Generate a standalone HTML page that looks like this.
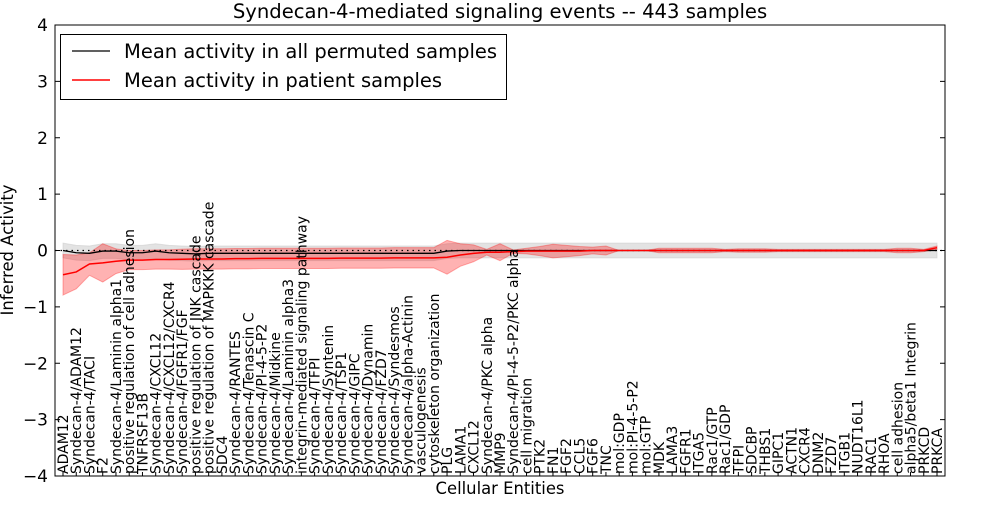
<!DOCTYPE html>
<html><head><meta charset="utf-8"><style>
body{margin:0;background:#fff;}
svg text{font-family:"DejaVu Sans","Liberation Sans",sans-serif;}
</style></head><body>
<svg id="chart" width="1000" height="500" xmlns="http://www.w3.org/2000/svg">
<rect width="1000" height="500" fill="#fff"/>
<g id="bands"></g>
<g id="lines"></g>
<g id="axes"></g>
</svg>
<script>
const categories=["ADAM12","Syndecan-4/ADAM12","Syndecan-4/TACI","F2","Syndecan-4/Laminin alpha1","positive regulation of cell adhesion","TNFRSF13B","Syndecan-4/CXCL12","Syndecan-4/CXCL12/CXCR4","Syndecan-4/FGFR1/FGF","positive regulation of JNK cascade","positive regulation of MAPKKK cascade","SDC4","Syndecan-4/RANTES","Syndecan-4/Tenascin C","Syndecan-4/PI-4-5-P2","Syndecan-4/Midkine","Syndecan-4/Laminin alpha3","integrin-mediated signaling pathway","Syndecan-4/TFPI","Syndecan-4/Syntenin","Syndecan-4/TSP1","Syndecan-4/GIPC","Syndecan-4/Dynamin","Syndecan-4/FZD7","Syndecan-4/Syndesmos","Syndecan-4/alpha-Actinin","vasculogenesis","cytoskeleton organization","PLG","LAMA1","CXCL12","Syndecan-4/PKC alpha","MMP9","Syndecan-4/PI-4-5-P2/PKC alpha","cell migration","PTK2","FN1","FGF2","CCL5","FGF6","TNC","mol:GDP","mol:PI-4-5-P2","mol:GTP","MDK","LAMA3","FGFR1","ITGA5","Rac1/GTP","Rac1/GDP","TFPI","SDCBP","THBS1","GIPC1","ACTN1","CXCR4","DNM2","FZD7","ITGB1","NUDT16L1","RAC1","RHOA","cell adhesion","alpha5/beta1 Integrin","PRKCD","PRKCA"];
const patientMean=[-0.43,-0.38,-0.24,-0.22,-0.19,-0.17,-0.17,-0.16,-0.16,-0.155,-0.15,-0.15,-0.15,-0.145,-0.145,-0.14,-0.14,-0.14,-0.14,-0.14,-0.14,-0.135,-0.135,-0.135,-0.135,-0.13,-0.13,-0.13,-0.13,-0.12,-0.08,-0.05,-0.03,-0.03,-0.02,-0.01,-0.01,-0.01,-0.01,-0.01,0,0,0,0,0,0,0,0,0,0,0,0,0,0,0,0,0,0,0,0,0,0,0,0,0,0,0.05];
const patientStd=[0.36,0.3,0.2,0.34,0.22,0.17,0.17,0.17,0.17,0.18,0.18,0.18,0.18,0.18,0.18,0.18,0.18,0.18,0.18,0.18,0.18,0.18,0.18,0.18,0.18,0.18,0.18,0.18,0.18,0.3,0.2,0.15,0.05,0.15,0.03,0.05,0.08,0.12,0.1,0.08,0.06,0.08,0,0,0,0.04,0.04,0.04,0.04,0.04,0.02,0.03,0.03,0.03,0.02,0.02,0.02,0.02,0.02,0.02,0.02,0.02,0.02,0.04,0.04,0.02,0.03];
const permMean=[0,-0.04,-0.05,-0.01,-0.01,-0.04,-0.04,-0.01,-0.04,-0.05,-0.06,-0.05,-0.05,-0.05,-0.05,-0.05,-0.05,-0.05,-0.05,-0.05,-0.05,-0.05,-0.05,-0.05,-0.05,-0.05,-0.05,-0.05,-0.05,-0.01,0,0,0,0,0,0,0,0,0,0,0,0,0,0,0,0,0,0,0,0,0,0,0,0,0,0,0,0,0,0,0,0,0,0,0,0,0];
const permStd=[0.13,0.13,0.13,0.13,0.13,0.13,0.13,0.13,0.13,0.13,0.13,0.13,0.13,0.13,0.13,0.13,0.13,0.13,0.13,0.13,0.13,0.13,0.13,0.13,0.13,0.13,0.13,0.13,0.13,0.13,0.13,0.13,0.13,0.13,0.13,0.13,0.13,0.13,0.13,0.13,0.13,0.13,0.13,0.13,0.13,0.13,0.13,0.13,0.13,0.13,0.13,0.13,0.13,0.13,0.13,0.13,0.13,0.13,0.13,0.13,0.13,0.13,0.13,0.13,0.13,0.13,0.13];
const yTicks=[4,3,2,1,0,-1,-2,-3,-4];
const yTickLabels=["4","3","2","1","0","\u22121","\u22122","\u22123","\u22124"];

const L=55,R=945,T=25,B=476,NS="http://www.w3.org/2000/svg";
const n=categories.length;
const xs=i=>L+8+i*(R-L-16)/(n-1);
const ys=v=>T+(4-v)*(B-T)/8;
function mk(tag,attrs,parent){const e=document.createElementNS(NS,tag);for(const k in attrs)e.setAttribute(k,attrs[k]);parent.appendChild(e);return e;}
const gb=document.getElementById('bands'),gl=document.getElementById('lines'),ga=document.getElementById('axes');
function band(mean,std,fill,op,name){
  let up=mean.map((m,i)=>xs(i)+','+ys(m+std[i]));
  let dn=mean.map((m,i)=>xs(i)+','+ys(m-std[i])).reverse();
  const p=mk('polygon',{points:up.concat(dn).join(' '),fill:fill,'fill-opacity':op,stroke:fill,'stroke-opacity':op},gb);
  
  
}
band(permMean,permStd,'#c8c8c8',0.5,'permuted-std-band');
band(patientMean,patientStd,'#ff0000',0.3,'patient-std-band');
const zl=mk('line',{x1:L,x2:R,y1:ys(0),y2:ys(0),stroke:'#000','stroke-dasharray':'1.5,4','stroke-width':1.2},gl);


const pl=mk('polyline',{points:permMean.map((m,i)=>xs(i)+','+ys(m)).join(' '),fill:'none',stroke:'#000','stroke-width':1.3},gl);


const rl=mk('polyline',{points:patientMean.map((m,i)=>xs(i)+','+ys(m)).join(' '),fill:'none',stroke:'#f00','stroke-width':1.5},gl);


const fr=mk('rect',{x:L,y:T,width:R-L,height:B-T,fill:'none',stroke:'#000','stroke-width':1},ga);


yTicks.forEach((v,i)=>{
  mk('line',{x1:L,x2:L+5,y1:ys(v),y2:ys(v),stroke:'#000'},ga);
  mk('line',{x1:R-5,x2:R,y1:ys(v),y2:ys(v),stroke:'#000'},ga);
  const t=mk('text',{x:L-7,y:ys(v)+6,'text-anchor':'end','font-size':17},ga);
  t.textContent=yTickLabels[i];
  
  
});
categories.forEach((c,i)=>{
  const x=xs(i);
  mk('line',{x1:x,x2:x,y1:B,y2:B-4,stroke:'#000'},ga);
  const t=mk('text',{x:0,y:0,transform:`translate(${x+5},${B-2}) rotate(-90)`,'font-size':14},ga);
  t.textContent=c;
  
  
});
</script>
<svg style="position:absolute;left:0;top:0" width="1000" height="500" xmlns="http://www.w3.org/2000/svg">
<text x="500" y="18" text-anchor="middle" font-size="19.6" font-family="DejaVu Sans, sans-serif">Syndecan-4-mediated signaling events -- 443 samples</text>
<text x="500" y="494" text-anchor="middle" font-size="16.4" font-family="DejaVu Sans, sans-serif">Cellular Entities</text>
<text transform="translate(13,250) rotate(-90)" text-anchor="middle" font-size="16.4" font-family="DejaVu Sans, sans-serif">Inferred Activity</text>
<g>
<rect x="60.5" y="34.5" width="446" height="65" fill="#fff" stroke="#000"/>
<line x1="72" x2="110" y1="51" y2="51" stroke="#000" stroke-width="1.3"/>
<text x="124" y="58" font-size="19.5" font-family="DejaVu Sans, sans-serif">Mean activity in all permuted samples</text>
<line x1="72" x2="110" y1="80" y2="80" stroke="#f00" stroke-width="1.5"/>
<text x="124" y="87" font-size="19.5" font-family="DejaVu Sans, sans-serif">Mean activity in patient samples</text>
</g>
</svg>
</body></html>
